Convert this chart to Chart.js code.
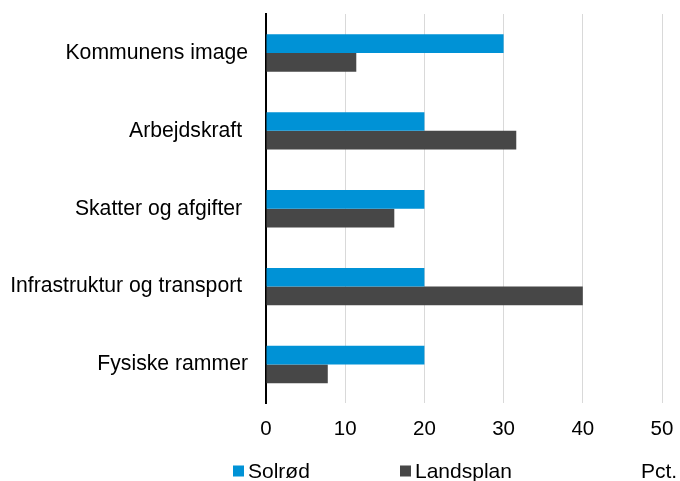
<!DOCTYPE html>
<html>
<head>
<meta charset="utf-8">
<script src="https://cdn.jsdelivr.net/npm/chart.js@4/dist/chart.umd.min.js"></script>
<style>
  html, body { margin: 0; padding: 0; background: #fff; }
  #wrap { width: 680px; height: 481px; position: relative; }
</style>
</head>
<body>
<div id="wrap"><canvas id="c" width="680" height="481"></canvas></div>
<script>
const categories = ["Kommunens image", "Arbejdskraft ", "Skatter og afgifter ", "Infrastruktur og transport ", "Fysiske rammer"];
const solroed = [30, 20, 20, 20, 20];
const landsplan = [11.4, 31.6, 16.2, 40, 7.8];
const seriesNames = ["Solrød", "Landsplan"];
const unitLabel = "Pct.";
const xTicks = [0, 10, 20, 30, 40, 50];

const BLUE = '#0092D6';
const GRAY = '#474747';
const FONT = '"Liberation Sans", Arial, sans-serif';

const legendPlugin = {
  id: 'customLegend',
  afterDraw(chart) {
    const ctx = chart.ctx;
    ctx.save();
    ctx.font = '21px ' + FONT;
    ctx.textBaseline = 'middle';
    ctx.textAlign = 'left';
    const y = 471;
    const items = [[233, BLUE, seriesNames[0]], [400, GRAY, seriesNames[1]]];
    items.forEach(([x, col, txt]) => {
      ctx.fillStyle = col;
      ctx.fillRect(x, y - 5.5, 11, 11);
      ctx.fillStyle = '#000';
      ctx.fillText(txt, x + 15, y + 1);
    });
    ctx.fillText(unitLabel, 641, y + 1);
    ctx.restore();
  }
};

new Chart(document.getElementById('c'), {
  type: 'bar',
  data: {
    labels: categories,
    datasets: [
      { label: seriesNames[0], data: solroed, backgroundColor: BLUE, categoryPercentage: 0.48, barPercentage: 1.0 },
      { label: seriesNames[1], data: landsplan, backgroundColor: GRAY, categoryPercentage: 0.48, barPercentage: 1.0 }
    ]
  },
  options: {
    indexAxis: 'y',
    responsive: false,
    animation: false,
    devicePixelRatio: 1,
    layout: { padding: { top: 14, right: 18, bottom: 25, left: 0 } },
    plugins: { legend: { display: false }, tooltip: { enabled: false } },
    scales: {
      x: {
        min: 0, max: 50,
        afterBuildTicks: (s) => { s.ticks = xTicks.map(v => ({ value: v })); },
        afterFit: (s) => { s.paddingLeft = 0; s.paddingRight = 0; s.paddingTop = 0; s.paddingBottom = 0; },
        border: { display: false },
        grid: {
          drawTicks: false,
          color: (c) => c.tick && c.tick.value === 0 ? 'rgba(0,0,0,0)' : '#d9d9d9',
          lineWidth: 1
        },
        ticks: { padding: 14, color: '#000', font: { size: 20.5, family: FONT } }
      },
      y: {
        afterFit: (s) => { s.width = 266; s.paddingTop = 0; s.paddingBottom = 0; s.paddingLeft = 0; s.paddingRight = 0; },
        border: { display: true, color: '#000', width: 2 },
        grid: { display: false, drawTicks: false },
        ticks: { padding: 18, color: '#000', font: { size: 21.2, family: FONT } }
      }
    }
  },
  plugins: [legendPlugin]
});
</script>
</body>
</html>
